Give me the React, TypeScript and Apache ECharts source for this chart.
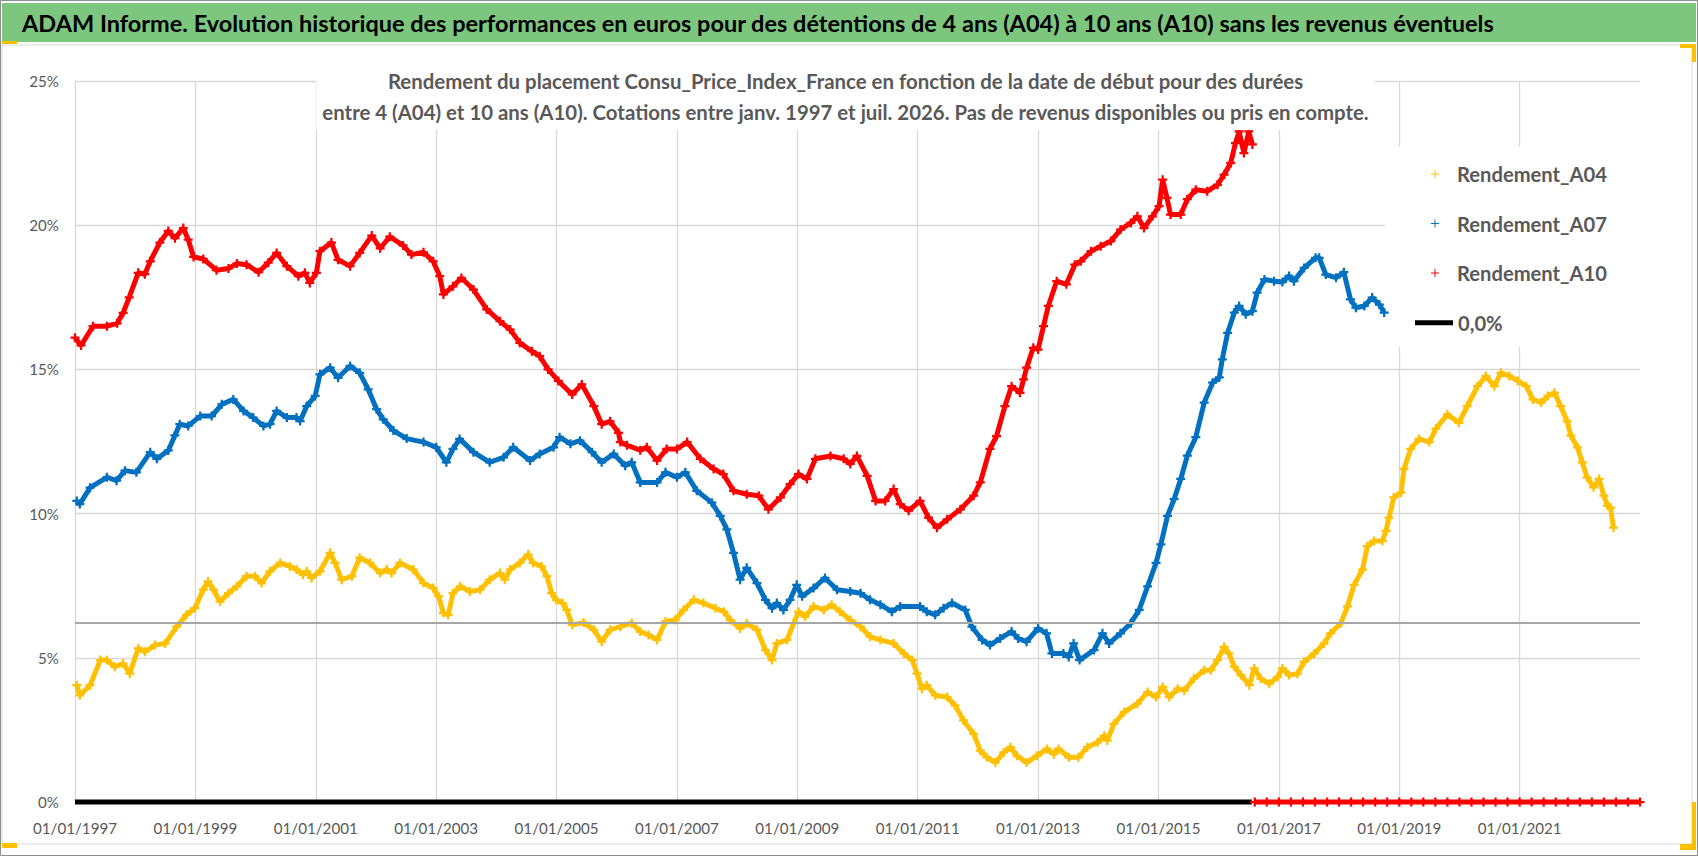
import React, { useEffect, useRef } from "react";
import * as echarts from "echarts";

const TITLE =
  "ADAM Informe. Evolution historique des performances en euros pour des détentions de 4 ans (A04) à 10 ans (A10) sans les revenus éventuels";
const SUBTITLE_LINES = [
  "Rendement du placement Consu_Price_Index_France en fonction de la date de début pour des durées",
  "entre 4 (A04) et 10 ans (A10). Cotations entre janv. 1997 et juil. 2026. Pas de revenus disponibles ou pris en compte.",
];
const SERIES_NAMES = ["Rendement_A04", "Rendement_A07", "Rendement_A10", "0,0%"];
const SERIES_COLORS = ["#FFC000", "#0070C0", "#FF0000", "#000000"];

const X_MIN = 1997;
const X_MAX = 2023;
const X_STEP = 2;
const X_LABEL_PREFIX = "01/01/";
const Y_MIN = 0;
const Y_MAX = 25;
const Y_STEP = 5;
const REF_LEVEL = 6.21;

// [start date (decimal year), yield %]
const A04: [number, number][] = [
  [1997.03, 4.05], [1997.08, 3.7], [1997.25, 4.05], [1997.42, 4.92], [1997.53, 4.92], [1997.66, 4.69],
  [1997.8, 4.8], [1997.91, 4.45], [1998.05, 5.33], [1998.16, 5.21], [1998.33, 5.44], [1998.5, 5.5],
  [1998.69, 6.08], [1998.85, 6.49], [1998.99, 6.72], [1999.13, 7.36], [1999.21, 7.65], [1999.3, 7.36],
  [1999.41, 6.95], [1999.55, 7.24], [1999.69, 7.48], [1999.85, 7.83], [1999.99, 7.83], [2000.1, 7.59],
  [2000.24, 8.0], [2000.41, 8.29], [2000.57, 8.17], [2000.68, 8.06], [2000.79, 7.88], [2000.85, 8.0],
  [2000.93, 7.77], [2001.07, 8.0], [2001.24, 8.64], [2001.32, 8.29], [2001.43, 7.71], [2001.6, 7.83],
  [2001.73, 8.47], [2001.9, 8.29], [2002.07, 7.94], [2002.18, 8.06], [2002.26, 7.94], [2002.4, 8.29],
  [2002.62, 8.06], [2002.79, 7.59], [2002.95, 7.42], [2003.04, 7.13], [2003.12, 6.55], [2003.2, 6.49],
  [2003.28, 7.24], [2003.4, 7.48], [2003.56, 7.3], [2003.73, 7.36], [2003.89, 7.71], [2004.06, 7.94],
  [2004.14, 7.71], [2004.23, 8.06], [2004.39, 8.29], [2004.53, 8.58], [2004.61, 8.29], [2004.75, 8.17],
  [2004.84, 7.83], [2004.92, 7.24], [2005.0, 7.0], [2005.1, 6.9], [2005.17, 6.66], [2005.26, 6.14],
  [2005.45, 6.22], [2005.62, 5.97], [2005.75, 5.56], [2005.89, 5.97], [2006.06, 6.08], [2006.25, 6.2],
  [2006.39, 5.91], [2006.53, 5.79], [2006.67, 5.62], [2006.81, 6.26], [2006.97, 6.31], [2007.11, 6.66],
  [2007.28, 7.01], [2007.44, 6.9], [2007.64, 6.72], [2007.78, 6.6], [2007.89, 6.31], [2008.05, 6.02],
  [2008.16, 6.2], [2008.33, 5.97], [2008.47, 5.27], [2008.58, 4.92], [2008.66, 5.5], [2008.83, 5.62],
  [2008.94, 6.2], [2009.02, 6.6], [2009.13, 6.43], [2009.27, 6.78], [2009.44, 6.66], [2009.57, 6.84],
  [2009.71, 6.6], [2009.88, 6.31], [2010.05, 6.08], [2010.21, 5.73], [2010.38, 5.62], [2010.6, 5.5],
  [2010.77, 5.15], [2010.91, 4.92], [2010.99, 4.45], [2011.07, 3.93], [2011.15, 4.05], [2011.29, 3.7],
  [2011.49, 3.64], [2011.62, 3.35], [2011.76, 2.83], [2011.93, 2.36], [2012.04, 1.78], [2012.15, 1.55],
  [2012.29, 1.37], [2012.43, 1.72], [2012.54, 1.9], [2012.65, 1.6], [2012.81, 1.37], [2012.98, 1.6],
  [2013.15, 1.84], [2013.26, 1.66], [2013.34, 1.84], [2013.51, 1.55], [2013.67, 1.55], [2013.82, 1.9],
  [2013.99, 2.07], [2014.1, 2.3], [2014.15, 2.13], [2014.26, 2.71], [2014.43, 3.12], [2014.65, 3.41],
  [2014.82, 3.81], [2014.96, 3.64], [2015.07, 3.99], [2015.18, 3.64], [2015.32, 3.93], [2015.43, 3.87],
  [2015.59, 4.28], [2015.76, 4.57], [2015.87, 4.57], [2015.98, 4.92], [2016.09, 5.38], [2016.17, 5.15],
  [2016.26, 4.69], [2016.37, 4.4], [2016.51, 4.05], [2016.59, 4.63], [2016.7, 4.28], [2016.84, 4.1],
  [2016.98, 4.34], [2017.06, 4.63], [2017.17, 4.4], [2017.31, 4.45], [2017.42, 4.86], [2017.59, 5.15],
  [2017.75, 5.5], [2017.86, 5.85], [2018.03, 6.2], [2018.14, 6.78], [2018.25, 7.53], [2018.39, 8.06],
  [2018.47, 8.87], [2018.58, 9.05], [2018.72, 9.05], [2018.78, 9.4], [2018.83, 9.86], [2018.91, 10.56],
  [2019.03, 10.73], [2019.08, 11.55], [2019.19, 12.24], [2019.33, 12.59], [2019.5, 12.48], [2019.61, 12.95],
  [2019.8, 13.44], [2019.99, 13.15], [2020.13, 13.73], [2020.3, 14.42], [2020.44, 14.77], [2020.58, 14.42],
  [2020.69, 14.88], [2020.83, 14.77], [2020.97, 14.6], [2021.11, 14.42], [2021.22, 13.96], [2021.36, 13.85],
  [2021.47, 14.08], [2021.58, 14.19], [2021.68, 13.73], [2021.79, 13.2], [2021.85, 12.71], [2021.96, 12.3],
  [2022.04, 11.78], [2022.12, 11.26], [2022.23, 10.91], [2022.32, 11.2], [2022.4, 10.62], [2022.46, 10.27],
  [2022.51, 10.21], [2022.56, 9.51],
];

const A07: [number, number][] = [
  [1997.03, 10.44], [1997.08, 10.33], [1997.25, 10.9], [1997.53, 11.26], [1997.69, 11.14], [1997.83, 11.49],
  [1998.02, 11.43], [1998.25, 12.13], [1998.36, 11.9], [1998.55, 12.19], [1998.66, 12.71], [1998.74, 13.1],
  [1998.88, 13.04], [1999.08, 13.38], [1999.27, 13.38], [1999.44, 13.79], [1999.63, 13.96], [1999.8, 13.56],
  [1999.96, 13.33], [2000.13, 13.04], [2000.24, 13.1], [2000.35, 13.56], [2000.52, 13.33], [2000.68, 13.33],
  [2000.74, 13.21], [2000.85, 13.73], [2000.99, 14.08], [2001.07, 14.83], [2001.24, 15.06], [2001.37, 14.71],
  [2001.57, 15.12], [2001.73, 14.88], [2001.87, 14.31], [2002.01, 13.62], [2002.12, 13.27], [2002.29, 12.88],
  [2002.51, 12.6], [2002.79, 12.48], [2003.0, 12.3], [2003.17, 11.78], [2003.28, 12.24], [2003.39, 12.59],
  [2003.62, 12.13], [2003.89, 11.78], [2004.12, 11.95], [2004.28, 12.3], [2004.56, 11.84], [2004.72, 12.07],
  [2004.95, 12.3], [2005.05, 12.65], [2005.23, 12.42], [2005.39, 12.53], [2005.59, 12.13], [2005.75, 11.78],
  [2005.95, 12.07], [2006.14, 11.66], [2006.25, 11.78], [2006.39, 11.08], [2006.67, 11.08], [2006.81, 11.43],
  [2007.0, 11.26], [2007.14, 11.43], [2007.33, 10.79], [2007.58, 10.38], [2007.72, 9.92], [2007.83, 9.45],
  [2007.94, 8.64], [2008.05, 7.71], [2008.16, 8.12], [2008.33, 7.59], [2008.47, 7.01], [2008.58, 6.72],
  [2008.66, 6.9], [2008.77, 6.66], [2008.88, 7.01], [2008.99, 7.53], [2009.08, 7.13], [2009.27, 7.42],
  [2009.46, 7.77], [2009.66, 7.36], [2009.88, 7.3], [2010.05, 7.24], [2010.21, 7.01], [2010.38, 6.84],
  [2010.57, 6.6], [2010.71, 6.78], [2011.04, 6.78], [2011.15, 6.6], [2011.29, 6.49], [2011.43, 6.72],
  [2011.57, 6.9], [2011.79, 6.66], [2011.9, 6.08], [2012.07, 5.62], [2012.2, 5.44], [2012.37, 5.67],
  [2012.56, 5.91], [2012.67, 5.67], [2012.81, 5.56], [2013.0, 6.02], [2013.14, 5.85], [2013.23, 5.15],
  [2013.42, 5.15], [2013.51, 5.03], [2013.59, 5.5], [2013.69, 4.92], [2013.93, 5.27], [2014.07, 5.85],
  [2014.18, 5.5], [2014.37, 5.85], [2014.54, 6.2], [2014.68, 6.66], [2014.82, 7.48], [2014.96, 8.29],
  [2015.04, 8.93], [2015.15, 9.92], [2015.26, 10.5], [2015.37, 11.2], [2015.48, 12.01], [2015.62, 12.65],
  [2015.76, 13.85], [2015.9, 14.54], [2016.01, 14.72], [2016.06, 15.35], [2016.15, 16.27], [2016.26, 16.97],
  [2016.34, 17.2], [2016.45, 16.91], [2016.56, 17.02], [2016.64, 17.66], [2016.76, 18.12], [2016.92, 18.06],
  [2017.06, 18.03], [2017.17, 18.24], [2017.25, 18.06], [2017.42, 18.52], [2017.61, 18.87], [2017.67, 18.87],
  [2017.78, 18.29], [2017.95, 18.18], [2018.08, 18.37], [2018.19, 17.43], [2018.28, 17.14], [2018.42, 17.2],
  [2018.55, 17.49], [2018.67, 17.25], [2018.75, 16.97],
];

const A10: [number, number][] = [
  [1997.0, 16.1], [1997.1, 15.83], [1997.3, 16.5], [1997.53, 16.5], [1997.7, 16.6], [1997.8, 16.96],
  [1997.9, 17.5], [1998.05, 18.35], [1998.16, 18.3], [1998.25, 18.75], [1998.41, 19.4], [1998.55, 19.8],
  [1998.66, 19.55], [1998.8, 19.9], [1998.88, 19.5], [1998.97, 18.9], [1999.13, 18.83], [1999.35, 18.44],
  [1999.55, 18.5], [1999.69, 18.67], [1999.85, 18.63], [2000.05, 18.37], [2000.21, 18.7], [2000.35, 19.04],
  [2000.52, 18.58], [2000.71, 18.23], [2000.82, 18.35], [2000.9, 18.0], [2001.01, 18.35], [2001.07, 19.1],
  [2001.26, 19.4], [2001.37, 18.8], [2001.57, 18.58], [2001.73, 19.04], [2001.93, 19.64], [2002.07, 19.2],
  [2002.23, 19.6], [2002.45, 19.3], [2002.59, 18.98], [2002.79, 19.06], [2002.95, 18.75], [2003.06, 18.23],
  [2003.12, 17.6], [2003.28, 17.88], [2003.42, 18.17], [2003.62, 17.77], [2003.84, 17.08], [2004.06, 16.67],
  [2004.23, 16.38], [2004.39, 15.92], [2004.59, 15.63], [2004.72, 15.46], [2004.86, 15.0], [2005.03, 14.6],
  [2005.26, 14.13], [2005.42, 14.48], [2005.62, 13.73], [2005.75, 13.1], [2005.89, 13.2], [2006.03, 12.8],
  [2006.06, 12.48], [2006.17, 12.37], [2006.39, 12.2], [2006.5, 12.3], [2006.67, 11.84], [2006.83, 12.24],
  [2007.0, 12.24], [2007.17, 12.48], [2007.39, 11.9], [2007.61, 11.55], [2007.77, 11.37], [2007.94, 10.79],
  [2008.16, 10.67], [2008.36, 10.62], [2008.52, 10.15], [2008.72, 10.56], [2008.88, 11.02], [2009.02, 11.37],
  [2009.16, 11.2], [2009.3, 11.9], [2009.55, 12.0], [2009.77, 11.9], [2009.88, 11.72], [2009.99, 12.0],
  [2010.16, 11.31], [2010.3, 10.44], [2010.46, 10.44], [2010.6, 10.85], [2010.71, 10.33], [2010.85, 10.1],
  [2011.04, 10.44], [2011.18, 9.86], [2011.32, 9.51], [2011.49, 9.8], [2011.71, 10.15], [2011.93, 10.62],
  [2012.04, 11.08], [2012.2, 12.24], [2012.31, 12.69], [2012.45, 13.73], [2012.56, 14.42], [2012.7, 14.19],
  [2012.76, 14.65], [2012.81, 15.06], [2012.92, 15.75], [2013.0, 15.69], [2013.09, 16.5], [2013.17, 17.2],
  [2013.31, 18.06], [2013.47, 17.95], [2013.61, 18.63], [2013.71, 18.75], [2013.88, 19.1], [2014.04, 19.27],
  [2014.21, 19.45], [2014.37, 19.85], [2014.54, 20.08], [2014.65, 20.31], [2014.76, 19.9], [2014.9, 20.31],
  [2015.01, 20.66], [2015.07, 21.58], [2015.14, 20.95], [2015.2, 20.37], [2015.37, 20.37], [2015.48, 20.9],
  [2015.62, 21.23], [2015.81, 21.18], [2015.98, 21.4], [2016.09, 21.75], [2016.2, 22.16], [2016.28, 22.85],
  [2016.34, 23.25], [2016.42, 22.5], [2016.5, 23.25], [2016.56, 22.8],
];

// A10 start dates for which no 10-year result exists yet: plotted at 0
const A10_ZERO_DATES = [
  2016.6, 2016.8, 2017.0, 2017.2, 2017.4, 2017.6, 2017.8, 2018.0, 2018.2, 2018.4, 2018.6, 2018.8,
  2019.0, 2019.2, 2019.4, 2019.6, 2019.8, 2020.0, 2020.2, 2020.4, 2020.6, 2020.8, 2021.0, 2021.2,
  2021.4, 2021.6, 2021.8, 2022.0, 2022.2, 2022.4, 2022.6, 2022.8, 2023.0,
];

const ZERO_LINE: [number, number][] = [
  [1997.0, 0],
  [2016.55, 0],
];

const FONT = "Lato, 'Noto Sans', sans-serif";
const PLUS = "path://M0,3H8V5H0Z M3,0H5V8H3Z";
const LEGEND_PLUS = "path://M0,3.5H8V4.5H0Z M3.5,0H4.5V8H3.5Z";

function fitSize(text: string, weight: string, target: number): number {
  const ctx = document.createElement("canvas").getContext("2d");
  if (!ctx) return 16;
  ctx.font = `${weight} 100px ${FONT}`;
  const w = ctx.measureText(text).width;
  return (100 * target) / w;
}

export default function App() {
  const ref = useRef<HTMLDivElement>(null);

  useEffect(() => {
    if (!ref.current) return;
    const chart = echarts.init(ref.current, undefined, { renderer: "svg" });

    const titleSize = fitSize(TITLE, "bold", 1473);
    const subSize = fitSize(SUBTITLE_LINES[1], "bold", 1047);
    const legSize = fitSize("Rendement_A04", "bold", 150);
    const axisSize = fitSize("01/01/2021", "normal", 84);

    const lineSeries = (i: number, data: any[], extra: any = {}) => ({
      name: SERIES_NAMES[i],
      type: "line",
      data,
      symbol: PLUS,
      symbolSize: 9,
      showSymbol: true,
      connectNulls: false,
      lineStyle: { color: SERIES_COLORS[i], width: 5 },
      itemStyle: { color: SERIES_COLORS[i] },
      emphasis: { disabled: true },
      ...extra,
    });

    const a10Data: any[] = [
      ...A10,
      [2016.58, "-"],
      ...A10_ZERO_DATES.map((d) => [d, 0]),
    ];

    chart.setOption({
      animation: false,
      backgroundColor: "#ffffff",
      textStyle: { fontFamily: FONT },
      graphic: [
        { type: "rect", z: 0, shape: { x: 0.5, y: 0.5, width: 1697, height: 855 }, style: { fill: "none", stroke: "#8C8C8C", lineWidth: 1 } },
        { type: "rect", z: 0, shape: { x: 2, y: 45, width: 1690, height: 799 }, style: { fill: "none", stroke: "#D9D9D9", lineWidth: 1 } },
        { type: "rect", z: 0, shape: { x: 2, y: 3, width: 1694, height: 39 }, style: { fill: "#7DC67D" } },
        { type: "rect", z: 1, shape: { x: 1385, y: 147, width: 256, height: 200 }, style: { fill: "#ffffff" } },
        { type: "rect", z: 5, shape: { x: 2, y: 41, width: 15, height: 3 }, style: { fill: "#FFC000" } },
        { type: "rect", z: 5, shape: { x: 1680, y: 44, width: 16, height: 4 }, style: { fill: "#FFC000" } },
        { type: "rect", z: 5, shape: { x: 1692, y: 44, width: 4, height: 18 }, style: { fill: "#FFC000" } },
        { type: "rect", z: 5, shape: { x: 2, y: 843, width: 15, height: 5 }, style: { fill: "#FFC000" } },
        { type: "rect", z: 5, shape: { x: 1680, y: 844, width: 16, height: 6 }, style: { fill: "#FFC000" } },
        { type: "rect", z: 5, shape: { x: 1692, y: 802, width: 4, height: 48 }, style: { fill: "#FFC000" } },
      ],
      title: [
        {
          text: TITLE,
          left: 22,
          top: 23 - titleSize * 0.6,
          padding: 0,
          textStyle: {
            fontFamily: FONT,
            fontWeight: "bold",
            fontSize: titleSize,
            lineHeight: titleSize * 1.2,
            color: "#000000",
          },
        },
        {
          text: SUBTITLE_LINES.join("\n"),
          left: 839.5,
          top: 60,
          textAlign: "center",
          padding: [5, 6, 3, 6],
          backgroundColor: "#ffffff",
          textStyle: {
            fontFamily: FONT,
            fontWeight: "bold",
            fontSize: subSize,
            lineHeight: 31,
            color: "#595959",
          },
        },
      ],
      legend: [
        {
          data: SERIES_NAMES.slice(0, 3).map((n) => ({ name: n, icon: LEGEND_PLUS })),
          orient: "vertical",
          left: 1431,
          top: 161,
          padding: 0,
          itemWidth: 8,
          itemHeight: 8,
          itemGap: 23.5,
          selectedMode: false,
          textStyle: {
            fontFamily: FONT,
            fontWeight: "bold",
            fontSize: legSize,
            lineHeight: 26,
            color: "#595959",
            padding: [0, 0, 0, 13],
          },
        },
        {
          data: [{ name: SERIES_NAMES[3], icon: "rect" }],
          left: 1415,
          top: 309.7,
          padding: 0,
          itemWidth: 38,
          itemHeight: 5,
          selectedMode: false,
          textStyle: {
            fontFamily: FONT,
            fontWeight: "bold",
            fontSize: legSize,
            lineHeight: 26,
            color: "#595959",
          },
        },
      ],
      grid: { left: 75, right: 58, top: 81, bottom: 54, containLabel: false },
      xAxis: {
        type: "value",
        min: X_MIN,
        max: X_MAX,
        interval: X_STEP,
        axisLine: { show: false },
        axisTick: { show: false },
        splitLine: { show: true, showMinLine: true, showMaxLine: false, lineStyle: { color: "#D9D9D9", width: 1.3 } },
        axisLabel: {
          showMaxLabel: false,
          formatter: (v: number) => X_LABEL_PREFIX + v,
          color: "#595959",
          fontFamily: FONT,
          fontSize: axisSize,
          margin: 26.3 - axisSize / 2,
        },
      },
      yAxis: {
        type: "value",
        min: Y_MIN,
        max: Y_MAX,
        interval: Y_STEP,
        axisLine: { show: false },
        axisTick: { show: false },
        splitLine: { show: true, lineStyle: { color: "#D9D9D9", width: 1.3 } },
        axisLabel: {
          formatter: "{value}%",
          color: "#595959",
          fontFamily: FONT,
          fontSize: axisSize,
          margin: 16,
        },
      },
      series: [
        lineSeries(0, A04),
        lineSeries(1, A07),
        lineSeries(2, a10Data, { clip: false }),
        {
          name: SERIES_NAMES[3],
          type: "line",
          data: ZERO_LINE,
          showSymbol: false,
          symbol: "none",
          clip: false,
          lineStyle: { color: SERIES_COLORS[3], width: 5 },
          itemStyle: { color: SERIES_COLORS[3] },
          emphasis: { disabled: true },
          z: 1,
          markLine: {
            silent: true,
            symbol: "none",
            label: { show: false },
            lineStyle: { color: "#A6A6A6", width: 2, type: "solid" },
            data: [{ yAxis: REF_LEVEL }],
          },
        },
      ],
    });

    return () => chart.dispose();
  }, []);

  return (
    <div
      ref={ref}
      style={{ position: "fixed", left: 0, top: 0, width: 1698, height: 856 }}
    />
  );
}
